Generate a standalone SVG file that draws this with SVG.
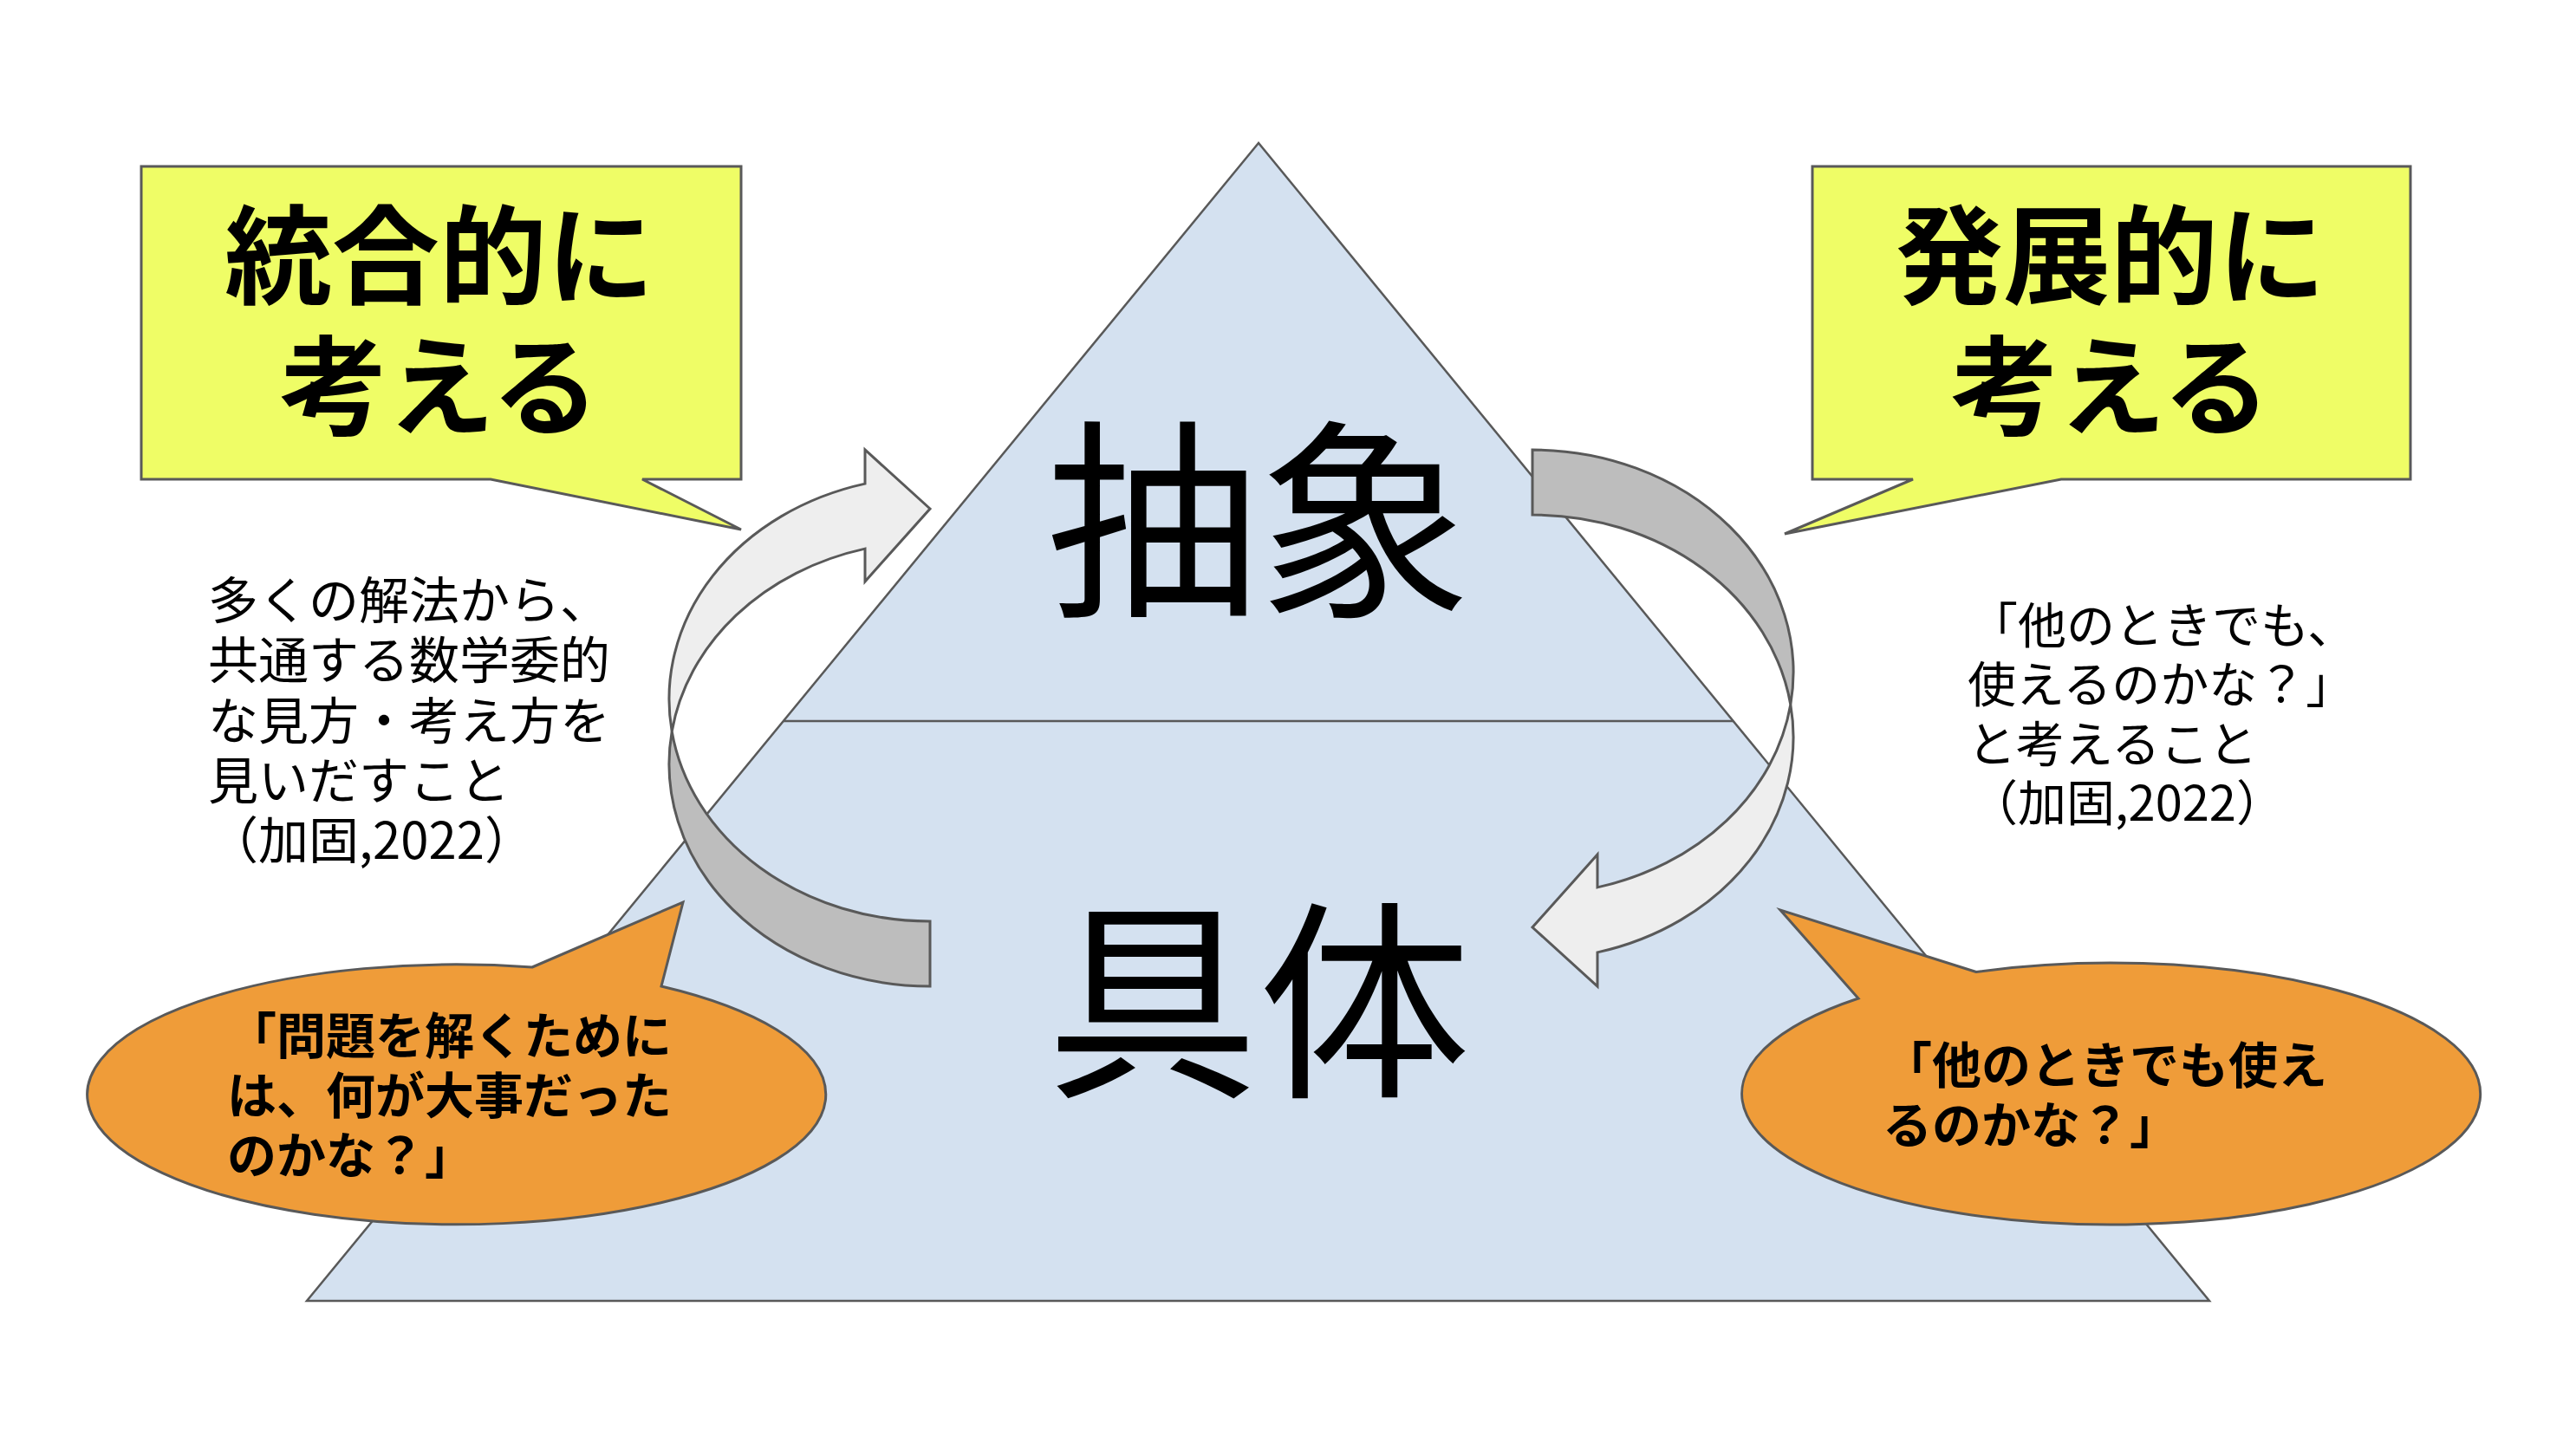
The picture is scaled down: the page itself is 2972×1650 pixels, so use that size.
<svg xmlns="http://www.w3.org/2000/svg" width="2972" height="1650" viewBox="0 0 2972 1650">
<style>
  .jp { font-family: "Noto Sans CJK JP", "Noto Sans CJK SC", sans-serif; fill: #000; }
  .title { font-size: 124px; font-weight: 700; text-anchor: middle; }
  .big { font-size: 245px; font-weight: 400; text-anchor: middle; }
  .note { font-size: 58px; font-weight: 400; }
  .note2 { font-size: 56px; font-weight: 400; }
  .bub { font-size: 57px; font-weight: 700; }
  .shape { stroke: #595959; stroke-width: 3; stroke-linejoin: miter; }
  .yellow { fill: #effd66; }
  .orange { fill: #ef9c39; }
  .light { fill: #eeeeee; }
  .dark { fill: #bdbdbd; }
</style>
<rect width="2972" height="1650" fill="#ffffff"/>

<g id="pyramid">
  <polygon points="1452,165 354,1501 2549,1501" fill="#d4e1f0" stroke="#595959" stroke-width="2.5"/>
  <line x1="904" y1="832" x2="2000" y2="832" stroke="#595959" stroke-width="2.5"/>
  <text class="jp big" x="1452" y="693">抽象</text>
  <text class="jp big" x="1452" y="1248">具体</text>
</g>

<g id="callout-left">
  <path class="shape yellow" d="M163,192 L855,192 L855,553 L741,553 L855,611 L566,553 L163,553 Z"/>
  <text class="jp title" x="507" y="341">統合的に</text>
  <text class="jp title" x="507" y="492">考える</text>
</g>

<g id="callout-right">
  <path class="shape yellow" d="M2091,192 L2781,192 L2781,553 L2378,553 L2059,616 L2207,553 L2091,553 Z"/>
  <text class="jp title" x="2435" y="341">発展的に</text>
  <text class="jp title" x="2435" y="492">考える</text>
</g>

<g id="note-left">
  <text class="jp note" x="240" y="714">多くの解法から、</text>
  <text class="jp note" x="240" y="783">共通する数学委的</text>
  <text class="jp note" x="240" y="853">な見方・考え方を</text>
  <text class="jp note" x="240" y="922">見いだすこと</text>
  <text class="jp note" x="240" y="991">（加固,2022）</text>
</g>

<g id="note-right">
  <text class="jp note2" x="2272" y="742">「他のときでも、</text>
  <text class="jp note2" x="2270" y="810">使えるのかな？」</text>
  <text class="jp note2" x="2270" y="879">と考えること</text>
  <text class="jp note2" x="2272" y="947">（加固,2022）</text>
</g>

<g id="bubble-left">
  <path class="shape orange" d="M614,1116 L788,1041 L763,1138 A426,150 0 1 1 614,1116 Z"/>
  <text class="jp bub" x="262" y="1216">「問題を解くために</text>
  <text class="jp bub" x="262" y="1285">は、何が大事だった</text>
  <text class="jp bub" x="262" y="1354">のかな？」</text>
</g>

<g id="bubble-right">
  <path class="shape orange" d="M2280,1121.5 L2054,1050 L2144,1152 A426,151 0 1 0 2280,1121.5 Z"/>
  <text class="jp bub" x="2172" y="1250">「他のときでも使え</text>
  <text class="jp bub" x="2172" y="1319">るのかな？」</text>
</g>

<g id="connectors">
  <g id="arrow-left">
    <path class="shape dark" d="M775.2,844 A301,256.5 0 0 0 1073,1138 L1073,1063 A301,256.5 0 0 1 775.2,844 Z"/>
    <path class="shape light" d="M775.2,844 A301,256.5 0 0 1 998,558.1 L998,519 L1073,587 L998,671 L998,633.1 A301,256.5 0 0 0 775.2,844 Z"/>
  </g>
  <g id="arrow-right" transform="rotate(180 1420.5 828.5)">
    <path class="shape dark" d="M775.2,844 A301,256.5 0 0 0 1073,1138 L1073,1063 A301,256.5 0 0 1 775.2,844 Z"/>
    <path class="shape light" d="M775.2,844 A301,256.5 0 0 1 998,558.1 L998,519 L1073,587 L998,671 L998,633.1 A301,256.5 0 0 0 775.2,844 Z"/>
  </g>
</g>
</svg>
